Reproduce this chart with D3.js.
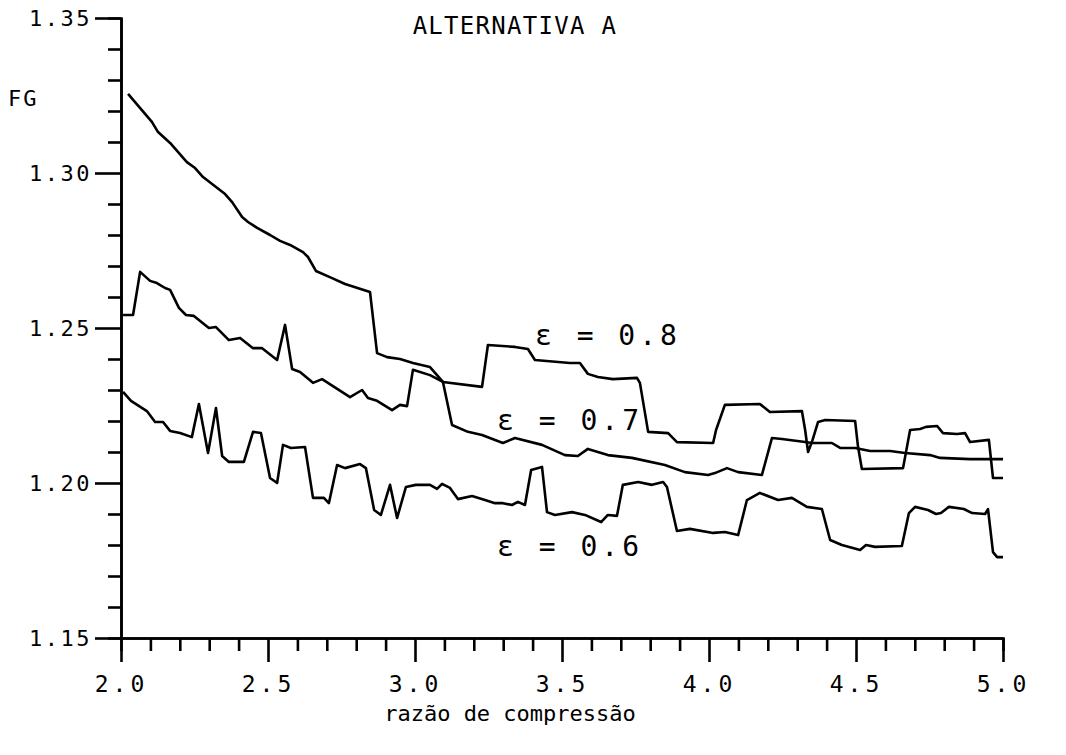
<!DOCTYPE html>
<meta charset="utf-8">
<head>
    <script type="text/javascript" src="https://d3js.org/d3.v7.min.js"></script>
    <style>
        body { margin: 0; background: #fff; }
        .axis path, .axis line { stroke: #000; stroke-width: 2.6; }
        .axis text { font-family: "DejaVu Sans Mono", monospace; fill: #000; }
        .curve { fill: none; stroke: #000; stroke-width: 2.6; stroke-linejoin: round; }
        .lbl { font-family: "DejaVu Sans Mono", monospace; fill: #000; }
    </style>
    <title>Alternativa A</title>
</head>
<body>
<script>
    // tick labels
    var xTickLabels = ["2.0", "2.5", "3.0", "3.5", "4.0", "4.5", "5.0"];
    var yTickLabels = ["1.15", "1.20", "1.25", "1.30", "1.35"];

    // eps = 0.8
    var rc08 = [2.024,2.105,2.126,2.167,2.224,2.252,2.279,2.354,2.378,2.412,2.432,2.463,2.507,2.541,2.575,2.619,2.636,2.663,2.718,2.762,2.847,2.871,2.905,2.949,2.993,3.051,3.095,3.228,3.248,3.340,3.384,3.408,3.527,3.561,3.588,3.622,3.673,3.755,3.765,3.793,3.861,3.891,4.014,4.024,4.054,4.173,4.207,4.316,4.327,4.337,4.350,4.371,4.395,4.497,4.507,4.520,4.660,4.684,4.718,4.738,4.776,4.796,4.844,4.871,4.888,4.952,4.966,5.000];
    var fg08 = [1.3255,1.3165,1.3132,1.3097,1.3035,1.3016,1.2987,1.2932,1.2906,1.2858,1.2842,1.2823,1.2800,1.2781,1.2768,1.2745,1.2729,1.2684,1.2661,1.2642,1.2616,1.2419,1.2406,1.2400,1.2387,1.2374,1.2326,1.2310,1.2445,1.2439,1.2432,1.2397,1.2387,1.2387,1.2352,1.2342,1.2335,1.2339,1.2323,1.2165,1.2161,1.2132,1.2129,1.2171,1.2252,1.2255,1.2229,1.2232,1.2171,1.2100,1.2132,1.2197,1.2203,1.2200,1.2116,1.2045,1.2048,1.2171,1.2174,1.2181,1.2184,1.2161,1.2158,1.2161,1.2132,1.2139,1.2016,1.2016];

    // eps = 0.7
    var rc07 = [2.007,2.041,2.065,2.099,2.122,2.150,2.167,2.197,2.221,2.248,2.299,2.323,2.367,2.405,2.449,2.480,2.531,2.558,2.582,2.609,2.653,2.684,2.779,2.820,2.840,2.871,2.922,2.949,2.973,2.993,3.051,3.095,3.126,3.180,3.228,3.299,3.340,3.432,3.510,3.554,3.588,3.656,3.738,3.850,3.918,3.997,4.020,4.061,4.099,4.180,4.214,4.248,4.327,4.350,4.418,4.446,4.497,4.548,4.616,4.667,4.752,4.786,4.888,5.000];
    var fg07 = [1.2542,1.2542,1.2681,1.2652,1.2645,1.2629,1.2623,1.2565,1.2542,1.2539,1.2500,1.2503,1.2461,1.2468,1.2435,1.2435,1.2397,1.2510,1.2368,1.2358,1.2323,1.2335,1.2277,1.2300,1.2274,1.2265,1.2235,1.2252,1.2248,1.2365,1.2348,1.2326,1.2187,1.2165,1.2155,1.2129,1.2145,1.2123,1.2090,1.2087,1.2110,1.2090,1.2081,1.2058,1.2035,1.2026,1.2032,1.2048,1.2035,1.2026,1.2145,1.2142,1.2132,1.2129,1.2129,1.2113,1.2113,1.2103,1.2103,1.2097,1.2090,1.2081,1.2077,1.2077];

    // eps = 0.6
    var rc06 = [2.007,2.034,2.088,2.116,2.143,2.167,2.201,2.241,2.265,2.296,2.323,2.344,2.367,2.418,2.449,2.476,2.507,2.531,2.551,2.578,2.626,2.653,2.690,2.707,2.735,2.762,2.813,2.833,2.861,2.884,2.915,2.939,2.969,3.003,3.051,3.075,3.092,3.119,3.146,3.194,3.238,3.272,3.299,3.330,3.350,3.374,3.395,3.432,3.449,3.476,3.534,3.578,3.633,3.656,3.687,3.707,3.759,3.806,3.844,3.857,3.891,3.935,4.014,4.054,4.099,4.129,4.173,4.235,4.282,4.333,4.384,4.412,4.452,4.514,4.534,4.565,4.656,4.680,4.701,4.745,4.772,4.789,4.816,4.867,4.895,4.939,4.949,4.966,4.980,5.000];
    var fg06 = [1.2294,1.2265,1.2232,1.2197,1.2197,1.2168,1.2161,1.2148,1.2255,1.2097,1.2242,1.2087,1.2068,1.2068,1.2165,1.2161,1.2016,1.2000,1.2123,1.2113,1.2116,1.1952,1.1952,1.1935,1.2058,1.2048,1.2061,1.2048,1.1913,1.1897,1.1994,1.1887,1.1987,1.1994,1.1994,1.1981,1.1997,1.1984,1.1948,1.1958,1.1945,1.1935,1.1935,1.1929,1.1939,1.1929,1.2042,1.2052,1.1906,1.1897,1.1906,1.1897,1.1874,1.1897,1.1894,1.1994,1.2003,1.1994,1.2003,1.1987,1.1845,1.1852,1.1839,1.1842,1.1832,1.1945,1.1968,1.1945,1.1952,1.1923,1.1916,1.1816,1.1800,1.1784,1.1800,1.1794,1.1797,1.1903,1.1923,1.1913,1.1900,1.1903,1.1923,1.1916,1.1903,1.1900,1.1916,1.1777,1.1761,1.1761];

    var curveNames = ["\u03b5 = 0.8", "\u03b5 = 0.7", "\u03b5 = 0.6"];

    var width = 1066, height = 755;

    var svg = d3.select("body").append("svg")
        .attr("width", width)
        .attr("height", height);

    // scales (plot box in page pixels)
    var x = d3.scaleLinear().domain([2.0, 5.0]).range([121, 1003]);
    var y = d3.scaleLinear().domain([1.15, 1.35]).range([638, 18]);

    var xMajor = xTickLabels.map(Number);
    var yMajor = yTickLabels.map(Number);
    var xMinor = d3.range(20, 51).map(d => d / 10).filter(d => xMajor.indexOf(d) < 0);
    var yMinor = d3.range(115, 136).map(d => d / 100).filter(d => yMajor.indexOf(Math.round(d * 100) / 100) < 0);

    // minor ticks first, then the labelled axis
    svg.append("g").attr("class", "axis")
        .attr("transform", "translate(0,638)")
        .call(d3.axisBottom(x).tickValues(xMinor).tickSize(13).tickFormat(""));
    svg.append("g").attr("class", "axis")
        .attr("transform", "translate(121,0)")
        .call(d3.axisLeft(y).tickValues(yMinor).tickSize(13).tickFormat(""));

    var xAxis = svg.append("g").attr("class", "axis")
        .attr("transform", "translate(0,638)")
        .call(d3.axisBottom(x).tickValues(xMajor).tickSize(24).tickSizeOuter(0).tickPadding(14)
            .tickFormat((d, i) => xTickLabels[i]));
    xAxis.selectAll("text").style("font-size", "23px").style("letter-spacing", "4px");

    var yAxis = svg.append("g").attr("class", "axis")
        .attr("transform", "translate(121,0)")
        .call(d3.axisLeft(y).tickValues(yMajor).tickSize(26).tickSizeOuter(0).tickPadding(3)
            .tickFormat((d, i) => yTickLabels[i]));
    yAxis.selectAll("text").style("font-size", "22px").style("letter-spacing", "2.5px");

    // curves
    var line = d3.line().x(d => x(d[0])).y(d => y(d[1]));
    var series = [d3.zip(rc08, fg08), d3.zip(rc07, fg07), d3.zip(rc06, fg06)];
    svg.selectAll(".curve")
        .data(series)
        .enter()
        .append("path")
        .attr("class", "curve")
        .attr("d", line);

    // curve labels
    var labelAt = [[3.408, 1.2445], [3.279, 1.2171], [3.279, 1.1765]];
    svg.selectAll(".eps")
        .data(curveNames)
        .enter()
        .append("text")
        .attr("class", "lbl eps")
        .attr("x", (d, i) => x(labelAt[i][0]))
        .attr("y", (d, i) => y(labelAt[i][1]))
        .style("font-size", "28px")
        .style("letter-spacing", "4px")
        .text(d => d);

    // titles
    svg.append("text").attr("class", "lbl")
        .attr("x", 515).attr("y", 34)
        .attr("text-anchor", "middle")
        .style("font-size", "24px").style("letter-spacing", "1.3px")
        .text("ALTERNATIVA A");

    svg.append("text").attr("class", "lbl")
        .attr("x", 8).attr("y", 106)
        .style("font-size", "22px").style("letter-spacing", "2px")
        .text("FG");

    svg.append("text").attr("class", "lbl")
        .attr("x", 510).attr("y", 721)
        .attr("text-anchor", "middle")
        .style("font-size", "22px")
        .text("razão de compressão");
</script>
</body>
